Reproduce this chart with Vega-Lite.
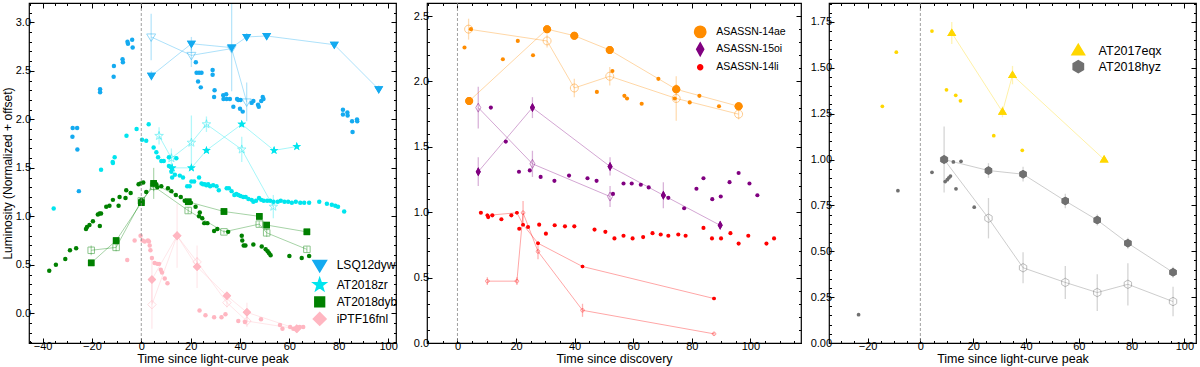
{
"$schema": "https://vega.github.io/schema/vega-lite/v6.json",
"padding": {"left": 0, "top": 1, "right": 0, "bottom": 0},
"spacing": 6,
"datasets": {
"p1": [
{"s":"LSQ12dyw","k":"d","t":-27.8,"L":1.91},{"s":"LSQ12dyw","k":"d","t":-26.0,"L":1.91},{"s":"LSQ12dyw","k":"d","t":-27.9,"L":1.82},{"s":"LSQ12dyw","k":"d","t":-25.9,"L":1.69},{"s":"LSQ12dyw","k":"d","t":-25.3,"L":1.26},{"s":"LSQ12dyw","k":"d","t":-16.7,"L":2.31},{"s":"LSQ12dyw","k":"d","t":-16.7,"L":2.28},{"s":"LSQ12dyw","k":"d","t":-11.2,"L":2.44},{"s":"LSQ12dyw","k":"d","t":-11.1,"L":2.55},{"s":"LSQ12dyw","k":"d","t":-7.6,"L":2.62},{"s":"LSQ12dyw","k":"d","t":-7.45,"L":2.59},{"s":"LSQ12dyw","k":"d","t":-5.6,"L":2.8},{"s":"LSQ12dyw","k":"d","t":-5.4,"L":2.78},{"s":"LSQ12dyw","k":"d","t":-3.7,"L":2.82},{"s":"LSQ12dyw","k":"d","t":-3.5,"L":2.74},{"s":"LSQ12dyw","k":"d","t":22.1,"L":2.59},{"s":"LSQ12dyw","k":"d","t":22.4,"L":2.48},{"s":"LSQ12dyw","k":"d","t":23.4,"L":2.48},{"s":"LSQ12dyw","k":"d","t":24.4,"L":2.48},{"s":"LSQ12dyw","k":"d","t":23.0,"L":2.39},{"s":"LSQ12dyw","k":"d","t":24.1,"L":2.33},{"s":"LSQ12dyw","k":"d","t":28.9,"L":2.51},{"s":"LSQ12dyw","k":"d","t":28.9,"L":2.46},{"s":"LSQ12dyw","k":"d","t":29.7,"L":2.3},{"s":"LSQ12dyw","k":"d","t":29.5,"L":2.23},{"s":"LSQ12dyw","k":"d","t":33.2,"L":2.25},{"s":"LSQ12dyw","k":"d","t":34.4,"L":2.26},{"s":"LSQ12dyw","k":"d","t":33.3,"L":2.21},{"s":"LSQ12dyw","k":"d","t":34.6,"L":2.21},{"s":"LSQ12dyw","k":"d","t":35.9,"L":2.21},{"s":"LSQ12dyw","k":"d","t":38.8,"L":2.21},{"s":"LSQ12dyw","k":"d","t":39.3,"L":2.2},{"s":"LSQ12dyw","k":"d","t":40.2,"L":2.2},{"s":"LSQ12dyw","k":"d","t":37.3,"L":2.13},{"s":"LSQ12dyw","k":"d","t":40.0,"L":2.11},{"s":"LSQ12dyw","k":"d","t":41.1,"L":2.08},{"s":"LSQ12dyw","k":"d","t":44.7,"L":2.17},{"s":"LSQ12dyw","k":"d","t":45.4,"L":2.19},{"s":"LSQ12dyw","k":"d","t":47.3,"L":2.15},{"s":"LSQ12dyw","k":"d","t":47.6,"L":2.13},{"s":"LSQ12dyw","k":"d","t":48.6,"L":2.19},{"s":"LSQ12dyw","k":"d","t":49.2,"L":2.23},{"s":"LSQ12dyw","k":"d","t":49.5,"L":2.21},{"s":"LSQ12dyw","k":"d","t":81.7,"L":2.1},{"s":"LSQ12dyw","k":"d","t":81.7,"L":2.05},{"s":"LSQ12dyw","k":"d","t":83.5,"L":2.07},{"s":"LSQ12dyw","k":"d","t":83.6,"L":2.04},{"s":"LSQ12dyw","k":"d","t":85.4,"L":1.98},{"s":"LSQ12dyw","k":"d","t":85.6,"L":1.87},{"s":"LSQ12dyw","k":"d","t":87.4,"L":2.0},{"s":"LSQ12dyw","k":"d","t":87.5,"L":1.98},
{"s":"LSQ12dyw","k":"f","t":4.1,"L":2.45,"e":0.05},{"s":"LSQ12dyw","k":"f","t":20.3,"L":2.78,"e":0.07},{"s":"LSQ12dyw","k":"f","t":36.6,"L":2.74,"e":0.45},{"s":"LSQ12dyw","k":"f","t":42.7,"L":2.85,"e":0.04},{"s":"LSQ12dyw","k":"f","t":50.8,"L":2.86,"e":0.03},{"s":"LSQ12dyw","k":"f","t":78.2,"L":2.77,"e":0.03},{"s":"LSQ12dyw","k":"f","t":96.2,"L":2.31,"e":0.04},
{"s":"LSQ12dyw","k":"o","t":4.0,"L":2.85,"e":0.24},{"s":"LSQ12dyw","k":"o","t":20.3,"L":2.66,"e":0.12},{"s":"LSQ12dyw","k":"o","t":36.6,"L":2.73,"e":0.02},{"s":"LSQ12dyw","k":"o","t":42.7,"L":2.18,"e":0.2},
{"s":"AT2018zr","k":"d","t":-35.5,"L":1.08},{"s":"AT2018zr","k":"d","t":-16.3,"L":1.48},{"s":"AT2018zr","k":"d","t":-11.5,"L":1.55},{"s":"AT2018zr","k":"d","t":-11.6,"L":1.56},{"s":"AT2018zr","k":"d","t":-10.8,"L":1.61},{"s":"AT2018zr","k":"d","t":-6.0,"L":1.83},{"s":"AT2018zr","k":"d","t":-1.9,"L":1.9},{"s":"AT2018zr","k":"d","t":3.0,"L":1.95},{"s":"AT2018zr","k":"d","t":0.3,"L":1.79},{"s":"AT2018zr","k":"d","t":2.0,"L":1.78},{"s":"AT2018zr","k":"d","t":5.0,"L":1.71},{"s":"AT2018zr","k":"d","t":6.1,"L":1.66},{"s":"AT2018zr","k":"d","t":6.8,"L":1.61},{"s":"AT2018zr","k":"d","t":8.1,"L":1.57},{"s":"AT2018zr","k":"d","t":9.1,"L":1.57},{"s":"AT2018zr","k":"d","t":11.2,"L":1.61},{"s":"AT2018zr","k":"d","t":14.2,"L":1.6},{"s":"AT2018zr","k":"d","t":11.2,"L":1.52},{"s":"AT2018zr","k":"d","t":11.9,"L":1.51},{"s":"AT2018zr","k":"d","t":12.2,"L":1.46},{"s":"AT2018zr","k":"d","t":12.5,"L":1.4},{"s":"AT2018zr","k":"d","t":13.6,"L":1.43},{"s":"AT2018zr","k":"d","t":15.6,"L":1.42},{"s":"AT2018zr","k":"d","t":16.9,"L":1.4},{"s":"AT2018zr","k":"d","t":18.6,"L":1.31},{"s":"AT2018zr","k":"d","t":19.6,"L":1.31},{"s":"AT2018zr","k":"d","t":20.3,"L":1.36},{"s":"AT2018zr","k":"d","t":21.4,"L":1.36},{"s":"AT2018zr","k":"d","t":23.4,"L":1.4},{"s":"AT2018zr","k":"d","t":24.4,"L":1.34},{"s":"AT2018zr","k":"d","t":25.0,"L":1.33},{"s":"AT2018zr","k":"d","t":25.7,"L":1.33},{"s":"AT2018zr","k":"d","t":26.4,"L":1.32},{"s":"AT2018zr","k":"d","t":27.1,"L":1.33},{"s":"AT2018zr","k":"d","t":27.9,"L":1.31},{"s":"AT2018zr","k":"d","t":29.1,"L":1.32},{"s":"AT2018zr","k":"d","t":30.5,"L":1.31},{"s":"AT2018zr","k":"d","t":31.4,"L":1.27},{"s":"AT2018zr","k":"d","t":34.6,"L":1.29},{"s":"AT2018zr","k":"d","t":35.5,"L":1.29},{"s":"AT2018zr","k":"d","t":36.6,"L":1.26},{"s":"AT2018zr","k":"d","t":37.7,"L":1.22},{"s":"AT2018zr","k":"d","t":38.5,"L":1.23},{"s":"AT2018zr","k":"d","t":39.3,"L":1.22},{"s":"AT2018zr","k":"d","t":40.2,"L":1.21},{"s":"AT2018zr","k":"d","t":41.3,"L":1.2},{"s":"AT2018zr","k":"d","t":42.3,"L":1.2},{"s":"AT2018zr","k":"d","t":43.4,"L":1.18},{"s":"AT2018zr","k":"d","t":44.7,"L":1.17},{"s":"AT2018zr","k":"d","t":45.4,"L":1.15},{"s":"AT2018zr","k":"d","t":46.5,"L":1.16},{"s":"AT2018zr","k":"d","t":47.7,"L":1.19},{"s":"AT2018zr","k":"d","t":48.6,"L":1.17},{"s":"AT2018zr","k":"d","t":49.6,"L":1.16},{"s":"AT2018zr","k":"d","t":51.0,"L":1.16},{"s":"AT2018zr","k":"d","t":52.2,"L":1.16},{"s":"AT2018zr","k":"d","t":53.6,"L":1.15},{"s":"AT2018zr","k":"d","t":55.3,"L":1.15},{"s":"AT2018zr","k":"d","t":56.5,"L":1.16},{"s":"AT2018zr","k":"d","t":58.0,"L":1.15},{"s":"AT2018zr","k":"d","t":59.5,"L":1.15},{"s":"AT2018zr","k":"d","t":61.0,"L":1.14},{"s":"AT2018zr","k":"d","t":62.6,"L":1.15},{"s":"AT2018zr","k":"d","t":64.4,"L":1.14},{"s":"AT2018zr","k":"d","t":66.0,"L":1.14},{"s":"AT2018zr","k":"d","t":68.0,"L":1.14},{"s":"AT2018zr","k":"d","t":72.1,"L":1.15},{"s":"AT2018zr","k":"d","t":75.2,"L":1.13},{"s":"AT2018zr","k":"d","t":77.2,"L":1.12},{"s":"AT2018zr","k":"d","t":78.6,"L":1.11},{"s":"AT2018zr","k":"d","t":79.7,"L":1.1},{"s":"AT2018zr","k":"d","t":82.2,"L":1.05},
{"s":"AT2018zr","k":"f","t":12.5,"L":1.5,"e":0.02},{"s":"AT2018zr","k":"f","t":20.3,"L":1.5,"e":0.02},{"s":"AT2018zr","k":"f","t":26.4,"L":1.68,"e":0.02},{"s":"AT2018zr","k":"f","t":40.7,"L":1.95,"e":0.03},{"s":"AT2018zr","k":"f","t":53.8,"L":1.68,"e":0.02},{"s":"AT2018zr","k":"f","t":63.0,"L":1.72,"e":0.02},
{"s":"AT2018zr","k":"o","t":7.2,"L":1.83,"e":0.09},{"s":"AT2018zr","k":"o","t":12.2,"L":1.6,"e":0.1},{"s":"AT2018zr","k":"o","t":20.3,"L":1.76,"e":0.28},{"s":"AT2018zr","k":"o","t":26.4,"L":1.95,"e":0.08},{"s":"AT2018zr","k":"o","t":40.7,"L":1.69,"e":0.13},{"s":"AT2018zr","k":"o","t":53.5,"L":1.1,"e":0.12},
{"s":"AT2018dyb","k":"d","t":-37.3,"L":0.44},{"s":"AT2018dyb","k":"d","t":-34.6,"L":0.5},{"s":"AT2018dyb","k":"d","t":-30.8,"L":0.56},{"s":"AT2018dyb","k":"d","t":-28.9,"L":0.65},{"s":"AT2018dyb","k":"d","t":-26.4,"L":0.67},{"s":"AT2018dyb","k":"d","t":-22.4,"L":0.87},{"s":"AT2018dyb","k":"d","t":-22.0,"L":0.89},{"s":"AT2018dyb","k":"d","t":-21.0,"L":0.91},{"s":"AT2018dyb","k":"d","t":-19.6,"L":0.95},{"s":"AT2018dyb","k":"d","t":-17.6,"L":1.02},{"s":"AT2018dyb","k":"d","t":-16.9,"L":1.03},{"s":"AT2018dyb","k":"d","t":-16.3,"L":1.03},{"s":"AT2018dyb","k":"d","t":-16.8,"L":0.9},{"s":"AT2018dyb","k":"d","t":-14.2,"L":1.1},{"s":"AT2018dyb","k":"d","t":-12.9,"L":1.11},{"s":"AT2018dyb","k":"d","t":-11.5,"L":1.17},{"s":"AT2018dyb","k":"d","t":-9.2,"L":1.11},{"s":"AT2018dyb","k":"d","t":-8.8,"L":1.2},{"s":"AT2018dyb","k":"d","t":-6.4,"L":1.19},{"s":"AT2018dyb","k":"d","t":-6.1,"L":1.27},{"s":"AT2018dyb","k":"d","t":-4.3,"L":1.24},{"s":"AT2018dyb","k":"d","t":-1.1,"L":1.33},{"s":"AT2018dyb","k":"d","t":-0.3,"L":1.34},{"s":"AT2018dyb","k":"d","t":0.8,"L":1.35},{"s":"AT2018dyb","k":"d","t":0.0,"L":1.17},{"s":"AT2018dyb","k":"d","t":2.0,"L":1.25},{"s":"AT2018dyb","k":"d","t":6.5,"L":1.3},{"s":"AT2018dyb","k":"d","t":6.1,"L":1.33},{"s":"AT2018dyb","k":"d","t":8.1,"L":1.31},{"s":"AT2018dyb","k":"d","t":10.8,"L":1.29},{"s":"AT2018dyb","k":"d","t":12.2,"L":1.26},{"s":"AT2018dyb","k":"d","t":14.0,"L":1.22},{"s":"AT2018dyb","k":"d","t":16.0,"L":1.2},{"s":"AT2018dyb","k":"d","t":17.6,"L":1.16},{"s":"AT2018dyb","k":"d","t":19.0,"L":1.15},{"s":"AT2018dyb","k":"d","t":20.1,"L":1.14},{"s":"AT2018dyb","k":"d","t":22.0,"L":1.1},{"s":"AT2018dyb","k":"d","t":23.7,"L":1.04},{"s":"AT2018dyb","k":"d","t":23.4,"L":1.0},{"s":"AT2018dyb","k":"d","t":24.7,"L":0.98},{"s":"AT2018dyb","k":"d","t":25.5,"L":0.93},{"s":"AT2018dyb","k":"d","t":26.8,"L":0.93},{"s":"AT2018dyb","k":"d","t":29.5,"L":0.85},{"s":"AT2018dyb","k":"d","t":30.8,"L":0.87},{"s":"AT2018dyb","k":"d","t":35.2,"L":0.84},{"s":"AT2018dyb","k":"d","t":40.7,"L":0.8},{"s":"AT2018dyb","k":"d","t":40.9,"L":0.75},{"s":"AT2018dyb","k":"d","t":41.5,"L":0.7},{"s":"AT2018dyb","k":"d","t":42.2,"L":0.7},{"s":"AT2018dyb","k":"d","t":45.4,"L":0.71},{"s":"AT2018dyb","k":"d","t":48.8,"L":0.69},{"s":"AT2018dyb","k":"d","t":50.4,"L":0.66},{"s":"AT2018dyb","k":"d","t":51.2,"L":0.64},{"s":"AT2018dyb","k":"d","t":51.8,"L":0.62},{"s":"AT2018dyb","k":"d","t":52.4,"L":0.6},{"s":"AT2018dyb","k":"d","t":60.0,"L":0.59},{"s":"AT2018dyb","k":"d","t":65.0,"L":0.57},{"s":"AT2018dyb","k":"d","t":68.0,"L":0.59},
{"s":"AT2018dyb","k":"f","t":-20.3,"L":0.52,"e":0.02},{"s":"AT2018dyb","k":"f","t":-10.2,"L":0.75,"e":0.02},{"s":"AT2018dyb","k":"f","t":0.0,"L":1.14,"e":0.03},{"s":"AT2018dyb","k":"f","t":5.0,"L":1.34,"e":0.16},{"s":"AT2018dyb","k":"f","t":19.0,"L":1.15,"e":0.02},{"s":"AT2018dyb","k":"f","t":33.5,"L":1.05,"e":0.02},{"s":"AT2018dyb","k":"f","t":47.8,"L":1.0,"e":0.02},{"s":"AT2018dyb","k":"f","t":50.8,"L":0.91,"e":0.02},{"s":"AT2018dyb","k":"f","t":67.1,"L":0.84,"e":0.02},
{"s":"AT2018dyb","k":"o","t":-20.3,"L":0.65,"e":0.05},{"s":"AT2018dyb","k":"o","t":-10.2,"L":0.68,"e":0.04},{"s":"AT2018dyb","k":"o","t":0.0,"L":1.16,"e":0.03},{"s":"AT2018dyb","k":"o","t":5.0,"L":1.31,"e":0.05},{"s":"AT2018dyb","k":"o","t":19.0,"L":1.06,"e":0.03},{"s":"AT2018dyb","k":"o","t":33.5,"L":0.84,"e":0.02},{"s":"AT2018dyb","k":"o","t":47.8,"L":0.92,"e":0.03},{"s":"AT2018dyb","k":"o","t":50.8,"L":0.83,"e":0.04},{"s":"AT2018dyb","k":"o","t":67.1,"L":0.66,"e":0.03},
{"s":"iPTF16fnl","k":"d","t":-5.7,"L":0.55},{"s":"iPTF16fnl","k":"d","t":-2.7,"L":0.75},{"s":"iPTF16fnl","k":"d","t":-0.3,"L":0.8},{"s":"iPTF16fnl","k":"d","t":0.5,"L":0.75},{"s":"iPTF16fnl","k":"d","t":1.4,"L":0.74},{"s":"iPTF16fnl","k":"d","t":2.7,"L":0.75},{"s":"iPTF16fnl","k":"d","t":3.1,"L":0.74},{"s":"iPTF16fnl","k":"d","t":3.4,"L":0.7},{"s":"iPTF16fnl","k":"d","t":3.7,"L":0.65},{"s":"iPTF16fnl","k":"d","t":4.3,"L":0.57},{"s":"iPTF16fnl","k":"d","t":5.4,"L":0.52},{"s":"iPTF16fnl","k":"d","t":6.5,"L":0.51},{"s":"iPTF16fnl","k":"d","t":7.2,"L":0.51},{"s":"iPTF16fnl","k":"d","t":7.9,"L":0.45},{"s":"iPTF16fnl","k":"d","t":8.4,"L":0.42},{"s":"iPTF16fnl","k":"d","t":9.5,"L":0.36},{"s":"iPTF16fnl","k":"d","t":10.6,"L":0.31},{"s":"iPTF16fnl","k":"d","t":23.6,"L":0.03},{"s":"iPTF16fnl","k":"d","t":26.0,"L":-0.02},{"s":"iPTF16fnl","k":"d","t":29.5,"L":-0.04},{"s":"iPTF16fnl","k":"d","t":32.5,"L":-0.04},{"s":"iPTF16fnl","k":"d","t":34.1,"L":-0.01},{"s":"iPTF16fnl","k":"d","t":39.3,"L":-0.08},{"s":"iPTF16fnl","k":"d","t":42.0,"L":-0.09},{"s":"iPTF16fnl","k":"d","t":48.5,"L":-0.06},{"s":"iPTF16fnl","k":"d","t":56.2,"L":-0.12},{"s":"iPTF16fnl","k":"d","t":57.2,"L":-0.16},{"s":"iPTF16fnl","k":"d","t":60.3,"L":-0.14},{"s":"iPTF16fnl","k":"d","t":61.6,"L":-0.16},{"s":"iPTF16fnl","k":"d","t":62.9,"L":-0.15},{"s":"iPTF16fnl","k":"d","t":64.2,"L":-0.14},{"s":"iPTF16fnl","k":"d","t":65.6,"L":-0.14},
{"s":"iPTF16fnl","k":"f","t":4.3,"L":0.35,"e":0.24},{"s":"iPTF16fnl","k":"f","t":14.5,"L":0.8,"e":0.33},{"s":"iPTF16fnl","k":"f","t":22.6,"L":0.48,"e":0.22},{"s":"iPTF16fnl","k":"f","t":34.7,"L":0.18,"e":0.02},{"s":"iPTF16fnl","k":"f","t":42.8,"L":0.01,"e":0.1},{"s":"iPTF16fnl","k":"f","t":63.0,"L":-0.16,"e":0.02},
{"s":"iPTF16fnl","k":"o","t":4.3,"L":0.09,"e":0.25},{"s":"iPTF16fnl","k":"o","t":14.5,"L":0.8,"e":0.05},{"s":"iPTF16fnl","k":"o","t":22.6,"L":0.53,"e":0.05},{"s":"iPTF16fnl","k":"o","t":34.7,"L":0.11,"e":0.05},{"s":"iPTF16fnl","k":"o","t":42.8,"L":-0.08,"e":0.06},{"s":"iPTF16fnl","k":"o","t":63.0,"L":-0.16,"e":0.02}
],
"p2": [
{"s":"ASASSN-14ae","k":"d","t":2.4,"L":2.26},{"s":"ASASSN-14ae","k":"d","t":4.6,"L":2.4},{"s":"ASASSN-14ae","k":"d","t":15.5,"L":2.17},{"s":"ASASSN-14ae","k":"d","t":20.6,"L":2.31},{"s":"ASASSN-14ae","k":"d","t":25.8,"L":2.2},{"s":"ASASSN-14ae","k":"d","t":47.6,"L":1.92},{"s":"ASASSN-14ae","k":"d","t":52.9,"L":2.08},{"s":"ASASSN-14ae","k":"d","t":57.0,"L":1.89},{"s":"ASASSN-14ae","k":"d","t":57.9,"L":1.87},{"s":"ASASSN-14ae","k":"d","t":62.9,"L":1.83},{"s":"ASASSN-14ae","k":"d","t":68.6,"L":2.02},{"s":"ASASSN-14ae","k":"d","t":74.2,"L":1.87},{"s":"ASASSN-14ae","k":"d","t":79.3,"L":1.84},{"s":"ASASSN-14ae","k":"d","t":82.6,"L":1.89},{"s":"ASASSN-14ae","k":"d","t":89.3,"L":1.81},
{"s":"ASASSN-14ae","k":"f","t":4.0,"L":1.85,"e":0.02},{"s":"ASASSN-14ae","k":"f","t":30.6,"L":2.4,"e":0.02},{"s":"ASASSN-14ae","k":"f","t":39.9,"L":2.35,"e":0.02},{"s":"ASASSN-14ae","k":"f","t":52.0,"L":2.24,"e":0.02},{"s":"ASASSN-14ae","k":"f","t":74.7,"L":1.94,"e":0.04},{"s":"ASASSN-14ae","k":"f","t":96.0,"L":1.81,"e":0.02},
{"s":"ASASSN-14ae","k":"o","t":3.8,"L":2.4,"e":0.08},{"s":"ASASSN-14ae","k":"o","t":30.6,"L":2.31,"e":0.05},{"s":"ASASSN-14ae","k":"o","t":39.9,"L":1.95,"e":0.07},{"s":"ASASSN-14ae","k":"o","t":52.0,"L":2.04,"e":0.07},{"s":"ASASSN-14ae","k":"o","t":74.7,"L":1.87,"e":0.17},{"s":"ASASSN-14ae","k":"o","t":96.0,"L":1.75,"e":0.04},
{"s":"ASASSN-15oi","k":"d","t":11.4,"L":1.8},{"s":"ASASSN-15oi","k":"d","t":16.5,"L":1.54},{"s":"ASASSN-15oi","k":"d","t":21.0,"L":1.31},{"s":"ASASSN-15oi","k":"d","t":24.7,"L":1.32},{"s":"ASASSN-15oi","k":"d","t":28.4,"L":1.27},{"s":"ASASSN-15oi","k":"d","t":33.1,"L":1.24},{"s":"ASASSN-15oi","k":"d","t":38.1,"L":1.28},{"s":"ASASSN-15oi","k":"d","t":44.4,"L":1.26},{"s":"ASASSN-15oi","k":"d","t":47.5,"L":1.24},{"s":"ASASSN-15oi","k":"d","t":53.1,"L":1.14},{"s":"ASASSN-15oi","k":"d","t":56.7,"L":1.22},{"s":"ASASSN-15oi","k":"d","t":59.5,"L":1.22},{"s":"ASASSN-15oi","k":"d","t":62.6,"L":1.21},{"s":"ASASSN-15oi","k":"d","t":65.3,"L":1.19},{"s":"ASASSN-15oi","k":"d","t":72.0,"L":1.11},{"s":"ASASSN-15oi","k":"d","t":77.4,"L":1.03},{"s":"ASASSN-15oi","k":"d","t":81.6,"L":1.18},{"s":"ASASSN-15oi","k":"d","t":84.0,"L":1.26},{"s":"ASASSN-15oi","k":"d","t":87.0,"L":1.1},{"s":"ASASSN-15oi","k":"d","t":89.9,"L":1.12},{"s":"ASASSN-15oi","k":"d","t":92.9,"L":1.23},{"s":"ASASSN-15oi","k":"d","t":96.0,"L":1.3},{"s":"ASASSN-15oi","k":"d","t":99.7,"L":1.22},{"s":"ASASSN-15oi","k":"d","t":102.4,"L":1.13},
{"s":"ASASSN-15oi","k":"f","t":7.1,"L":1.31,"e":0.11},{"s":"ASASSN-15oi","k":"f","t":25.6,"L":1.8,"e":0.08},{"s":"ASASSN-15oi","k":"f","t":52.1,"L":1.35,"e":0.07},{"s":"ASASSN-15oi","k":"f","t":70.3,"L":1.13,"e":0.1},{"s":"ASASSN-15oi","k":"f","t":89.7,"L":0.9,"e":0.03},
{"s":"ASASSN-15oi","k":"o","t":7.1,"L":1.8,"e":0.16},{"s":"ASASSN-15oi","k":"o","t":25.6,"L":1.37,"e":0.1},{"s":"ASASSN-15oi","k":"o","t":52.1,"L":1.12,"e":0.08},
{"s":"ASASSN-14li","k":"d","t":8.0,"L":0.996},{"s":"ASASSN-14li","k":"d","t":10.5,"L":0.963},{"s":"ASASSN-14li","k":"d","t":11.9,"L":0.976},{"s":"ASASSN-14li","k":"d","t":15.0,"L":0.946},{"s":"ASASSN-14li","k":"d","t":18.4,"L":0.976},{"s":"ASASSN-14li","k":"d","t":21.1,"L":0.874},{"s":"ASASSN-14li","k":"d","t":24.1,"L":0.887},{"s":"ASASSN-14li","k":"d","t":27.9,"L":0.905},{"s":"ASASSN-14li","k":"d","t":30.2,"L":0.836},{"s":"ASASSN-14li","k":"d","t":33.2,"L":0.9},{"s":"ASASSN-14li","k":"d","t":36.7,"L":0.892},{"s":"ASASSN-14li","k":"d","t":39.9,"L":0.892},{"s":"ASASSN-14li","k":"d","t":46.8,"L":0.867},{"s":"ASASSN-14li","k":"d","t":50.5,"L":0.85},{"s":"ASASSN-14li","k":"d","t":53.6,"L":0.8},{"s":"ASASSN-14li","k":"d","t":56.7,"L":0.82},{"s":"ASASSN-14li","k":"d","t":59.8,"L":0.8},{"s":"ASASSN-14li","k":"d","t":63.4,"L":0.81},{"s":"ASASSN-14li","k":"d","t":66.6,"L":0.84},{"s":"ASASSN-14li","k":"d","t":69.4,"L":0.83},{"s":"ASASSN-14li","k":"d","t":72.0,"L":0.82},{"s":"ASASSN-14li","k":"d","t":75.4,"L":0.83},{"s":"ASASSN-14li","k":"d","t":77.9,"L":0.82},{"s":"ASASSN-14li","k":"d","t":84.0,"L":0.88},{"s":"ASASSN-14li","k":"d","t":86.9,"L":0.8},{"s":"ASASSN-14li","k":"d","t":90.0,"L":0.8},{"s":"ASASSN-14li","k":"d","t":93.2,"L":0.84},{"s":"ASASSN-14li","k":"d","t":96.0,"L":0.76},{"s":"ASASSN-14li","k":"d","t":99.3,"L":0.82},{"s":"ASASSN-14li","k":"d","t":105.5,"L":0.76},{"s":"ASASSN-14li","k":"d","t":108.1,"L":0.8},
{"s":"ASASSN-14li","k":"f","t":10.2,"L":0.976,"e":0.01},{"s":"ASASSN-14li","k":"f","t":20.3,"L":0.996,"e":0.01},{"s":"ASASSN-14li","k":"f","t":22.4,"L":0.905,"e":0.01},{"s":"ASASSN-14li","k":"f","t":27.5,"L":0.763,"e":0.01},{"s":"ASASSN-14li","k":"f","t":42.7,"L":0.585,"e":0.01},{"s":"ASASSN-14li","k":"f","t":87.6,"L":0.34,"e":0.01},
{"s":"ASASSN-14li","k":"o","t":10.2,"L":0.473,"e":0.03},{"s":"ASASSN-14li","k":"o","t":20.3,"L":0.473,"e":0.03},{"s":"ASASSN-14li","k":"o","t":22.4,"L":0.996,"e":0.09},{"s":"ASASSN-14li","k":"o","t":27.5,"L":0.7,"e":0.06},{"s":"ASASSN-14li","k":"o","t":42.7,"L":0.25,"e":0.05},{"s":"ASASSN-14li","k":"o","t":87.6,"L":0.07,"e":0.01}
],
"p3": [
{"s":"AT2017eqx","k":"d","t":-14.4,"L":1.29},{"s":"AT2017eqx","k":"d","t":-9.1,"L":1.585},{"s":"AT2017eqx","k":"d","t":4.4,"L":1.7},{"s":"AT2017eqx","k":"d","t":9.9,"L":1.38},{"s":"AT2017eqx","k":"d","t":13.4,"L":1.35},{"s":"AT2017eqx","k":"d","t":15.2,"L":1.32},{"s":"AT2017eqx","k":"d","t":27.8,"L":1.13},{"s":"AT2017eqx","k":"d","t":38.6,"L":1.05},
{"s":"AT2017eqx","k":"f","t":11.9,"L":1.69,"e":0.06},{"s":"AT2017eqx","k":"f","t":31.1,"L":1.26,"e":0.03},{"s":"AT2017eqx","k":"f","t":34.9,"L":1.46,"e":0.05},{"s":"AT2017eqx","k":"f","t":69.6,"L":1.0,"e":0.01},
{"s":"AT2018hyz","k":"d","t":-23.4,"L":0.154},{"s":"AT2018hyz","k":"d","t":-8.5,"L":0.83},{"s":"AT2018hyz","k":"d","t":4.4,"L":0.93},{"s":"AT2018hyz","k":"d","t":9.4,"L":0.88},{"s":"AT2018hyz","k":"d","t":10.2,"L":0.89},{"s":"AT2018hyz","k":"d","t":10.8,"L":0.9},{"s":"AT2018hyz","k":"d","t":11.4,"L":0.91},{"s":"AT2018hyz","k":"d","t":12.5,"L":0.987},{"s":"AT2018hyz","k":"d","t":15.4,"L":0.99},{"s":"AT2018hyz","k":"d","t":13.5,"L":0.84},{"s":"AT2018hyz","k":"d","t":20.4,"L":0.74},
{"s":"AT2018hyz","k":"f","t":9.0,"L":1.0,"e":0.18},{"s":"AT2018hyz","k":"f","t":25.8,"L":0.94,"e":0.04},{"s":"AT2018hyz","k":"f","t":38.9,"L":0.92,"e":0.04},{"s":"AT2018hyz","k":"f","t":54.9,"L":0.774,"e":0.04},{"s":"AT2018hyz","k":"f","t":67.0,"L":0.67,"e":0.03},{"s":"AT2018hyz","k":"f","t":78.6,"L":0.544,"e":0.03},{"s":"AT2018hyz","k":"f","t":95.7,"L":0.385,"e":0.03},
{"s":"AT2018hyz","k":"o","t":9.0,"L":1.0,"e":0.02},{"s":"AT2018hyz","k":"o","t":25.8,"L":0.68,"e":0.11},{"s":"AT2018hyz","k":"o","t":38.9,"L":0.41,"e":0.085},{"s":"AT2018hyz","k":"o","t":54.9,"L":0.33,"e":0.09},{"s":"AT2018hyz","k":"o","t":67.0,"L":0.275,"e":0.1},{"s":"AT2018hyz","k":"o","t":78.6,"L":0.32,"e":0.115},{"s":"AT2018hyz","k":"o","t":95.7,"L":0.226,"e":0.08}
]
},
"hconcat": [
{
"width": 367, "height": 340,
"layer": [
{
"data": {"name": "p1"},
"encoding": {
"x": {"field": "t", "type": "quantitative", "scale": {"domain": [-45.5, 103.2], "nice": false, "zero": false}, "axis": {"orient": "bottom", "values": [-40,-20,0,20,40,60,80,100], "format": "d", "tickSize": -5, "labelPadding": 2, "title": "Time since light-curve peak", "titlePadding": 1}},
"y": {"field": "L", "type": "quantitative", "scale": {"domain": [-0.306, 3.2], "nice": false, "zero": false}, "axis": {"orient": "left", "values": [0,0.5,1,1.5,2,2.5,3], "format": ".1f", "tickSize": -5, "labelPadding": 3.5, "title": "Luminosity (Normalized + offset)", "titleFontSize": 12, "titlePadding": 1, "minExtent": 0}}
},
"layer": [
{"transform": [{"filter": "datum.k === 'f'"}], "mark": {"type": "point", "filled": true, "opacity": 1, "size": 100}, "encoding": {"color": {"field": "s", "type": "nominal", "scale": {"domain": ["LSQ12dyw","AT2018zr","AT2018dyb","iPTF16fnl"], "range": ["#14aaf0","#00e5ee","#008000","#ffb6c1"]}, "legend": {"orient": "none", "legendX": 282.2, "legendY": 253.5, "title": null, "symbolSize": 225, "labelFontSize": 12, "labelOffset": 8.5, "rowPadding": -1.1, "padding": 0}}, "shape": {"field": "s", "type": "nominal", "scale": {"domain": ["LSQ12dyw","AT2018zr","AT2018dyb","iPTF16fnl"], "range": ["M-0.9,-0.6L0.9,-0.6L0,0.9Z","M0,-0.9L0.212,-0.291L0.856,-0.278L0.342,0.111L0.529,0.728L0,0.36L-0.529,0.728L-0.342,0.111L-0.856,-0.278L-0.212,-0.291Z","M-0.65,-0.65L0.65,-0.65L0.65,0.65L-0.65,0.65Z","M0,-0.85L0.85,0L0,0.85L-0.85,0Z"]}, "legend": {"orient": "none", "legendX": 282.2, "legendY": 253.5, "title": null, "symbolSize": 225, "labelFontSize": 12, "labelOffset": 8.5, "rowPadding": -1.1, "padding": 0}}}},
{"transform": [{"filter": "datum.k !== 'd'"}], "mark": {"type": "errorbar", "opacity": 0.3, "thickness": 1.3}, "encoding": {"yError": {"field": "e"}, "color": {"field": "s", "type": "nominal", "scale": {"domain": ["LSQ12dyw","AT2018zr","AT2018dyb","iPTF16fnl"], "range": ["#14aaf0","#00e5ee","#008000","#ffb6c1"]}, "legend": null}}},
{"transform": [{"filter": "datum.k !== 'd'"}], "mark": {"type": "line", "opacity": 0.35, "strokeWidth": 1}, "encoding": {"detail": {"field": "k"}, "color": {"field": "s", "type": "nominal", "scale": {"domain": ["LSQ12dyw","AT2018zr","AT2018dyb","iPTF16fnl"], "range": ["#14aaf0","#00e5ee","#008000","#ffb6c1"]}, "legend": null}}},
{"transform": [{"filter": "datum.k === 'd'"}], "mark": {"type": "circle", "size": 20, "opacity": 1}, "encoding": {"color": {"field": "s", "type": "nominal", "scale": {"domain": ["LSQ12dyw","AT2018zr","AT2018dyb","iPTF16fnl"], "range": ["#14aaf0","#00e5ee","#008000","#ffb6c1"]}, "legend": null}}},
{"transform": [{"filter": "datum.k === 'o'"}], "mark": {"type": "point", "filled": false, "opacity": 0.45, "strokeWidth": 1, "size": 100}, "encoding": {"color": {"field": "s", "type": "nominal", "scale": {"domain": ["LSQ12dyw","AT2018zr","AT2018dyb","iPTF16fnl"], "range": ["#14aaf0","#00e5ee","#008000","#ffb6c1"]}, "legend": null}, "shape": {"field": "s", "type": "nominal", "scale": {"domain": ["LSQ12dyw","AT2018zr","AT2018dyb","iPTF16fnl"], "range": ["M-0.9,-0.6L0.9,-0.6L0,0.9Z","M0,-0.9L0.212,-0.291L0.856,-0.278L0.342,0.111L0.529,0.728L0,0.36L-0.529,0.728L-0.342,0.111L-0.856,-0.278L-0.212,-0.291Z","M-0.65,-0.65L0.65,-0.65L0.65,0.65L-0.65,0.65Z","M0,-0.85L0.85,0L0,0.85L-0.85,0Z"]}, "legend": null}}},
{"transform": [{"filter": "datum.k === 'f'"}], "mark": {"type": "point", "filled": true, "opacity": 1, "size": 100}, "encoding": {"color": {"field": "s", "type": "nominal", "scale": {"domain": ["LSQ12dyw","AT2018zr","AT2018dyb","iPTF16fnl"], "range": ["#14aaf0","#00e5ee","#008000","#ffb6c1"]}, "legend": null}, "shape": {"field": "s", "type": "nominal", "scale": {"domain": ["LSQ12dyw","AT2018zr","AT2018dyb","iPTF16fnl"], "range": ["M-0.9,-0.6L0.9,-0.6L0,0.9Z","M0,-0.9L0.212,-0.291L0.856,-0.278L0.342,0.111L0.529,0.728L0,0.36L-0.529,0.728L-0.342,0.111L-0.856,-0.278L-0.212,-0.291Z","M-0.65,-0.65L0.65,-0.65L0.65,0.65L-0.65,0.65Z","M0,-0.85L0.85,0L0,0.85L-0.85,0Z"]}, "legend": null}}}
]
},
{"data": {"values": [{"v": 0}]}, "mark": {"type": "rule", "strokeDash": [3, 2], "color": "#888888", "strokeWidth": 0.8}, "encoding": {"x": {"field": "v", "type": "quantitative", "scale": {"domain": [-45.5, 103.2], "nice": false, "zero": false}, "axis": null}}},
{"data": {"values": [{"v": 0}]}, "mark": {"type": "point", "opacity": 0}, "encoding": {
"x": {"field": "v", "type": "quantitative", "scale": {"domain": [-45.5, 103.2], "nice": false, "zero": false}, "axis": {"orient": "bottom", "values": [-45,-40,-35,-30,-25,-20,-15,-10,-5,0,5,10,15,20,25,30,35,40,45,50,55,60,65,70,75,80,85,90,95,100], "tickSize": -2.5, "labels": false, "title": null}},
"y": {"field": "v", "type": "quantitative", "scale": {"domain": [-0.306, 3.2], "nice": false, "zero": false}, "axis": {"orient": "left", "values": [-0.3,-0.2,-0.1,0,0.1,0.2,0.3,0.4,0.5,0.6,0.7,0.8,0.9,1,1.1,1.2,1.3,1.4,1.5,1.6,1.7,1.8,1.9,2,2.1,2.2,2.3,2.4,2.5,2.6,2.7,2.8,2.9,3,3.1,3.2], "tickSize": -2.5, "labels": false, "title": null, "minExtent": 0}}}},
{"data": {"values": [{"v": 0}]}, "mark": {"type": "point", "opacity": 0}, "encoding": {
"x": {"field": "v", "type": "quantitative", "scale": {"domain": [-45.5, 103.2], "nice": false, "zero": false}, "axis": {"orient": "top", "values": [-40,-20,0,20,40,60,80,100], "tickSize": -5, "labels": false, "title": null}},
"y": {"field": "v", "type": "quantitative", "scale": {"domain": [-0.306, 3.2], "nice": false, "zero": false}, "axis": {"orient": "right", "values": [0,0.5,1,1.5,2,2.5,3], "tickSize": -5, "labels": false, "title": null, "minExtent": 0}}}},
{"data": {"values": [{"v": 0}]}, "mark": {"type": "point", "opacity": 0}, "encoding": {
"x": {"field": "v", "type": "quantitative", "scale": {"domain": [-45.5, 103.2], "nice": false, "zero": false}, "axis": {"orient": "top", "values": [-45,-40,-35,-30,-25,-20,-15,-10,-5,0,5,10,15,20,25,30,35,40,45,50,55,60,65,70,75,80,85,90,95,100], "tickSize": -2.5, "labels": false, "title": null}},
"y": {"field": "v", "type": "quantitative", "scale": {"domain": [-0.306, 3.2], "nice": false, "zero": false}, "axis": {"orient": "right", "values": [-0.3,-0.2,-0.1,0,0.1,0.2,0.3,0.4,0.5,0.6,0.7,0.8,0.9,1,1.1,1.2,1.3,1.4,1.5,1.6,1.7,1.8,1.9,2,2.1,2.2,2.3,2.4,2.5,2.6,2.7,2.8,2.9,3,3.1,3.2], "tickSize": -2.5, "labels": false, "title": null, "minExtent": 0}}}}
],
"resolve": {"axis": {"x": "independent", "y": "independent"}}
},
{
"width": 374, "height": 340,
"layer": [
{
"data": {"name": "p2"},
"encoding": {
"x": {"field": "t", "type": "quantitative", "scale": {"domain": [-10.4, 117.3], "nice": false, "zero": false}, "axis": {"orient": "bottom", "values": [0,20,40,60,80,100], "format": "d", "tickSize": -5, "labelPadding": 2, "title": "Time since discovery", "titlePadding": 1}},
"y": {"field": "L", "type": "quantitative", "scale": {"domain": [0, 2.6], "nice": false, "zero": false}, "axis": {"orient": "left", "values": [0,0.5,1,1.5,2,2.5], "format": ".1f", "tickSize": -5, "labelPadding": 3.4, "title": null, "minExtent": 22.2}}
},
"layer": [
{"transform": [{"filter": "datum.k === 'f'"}], "mark": {"type": "point", "filled": true, "opacity": 1, "size": 100}, "encoding": {"color": {"field": "s", "type": "nominal", "scale": {"domain": ["ASASSN-14ae","ASASSN-15oi","ASASSN-14li"], "range": ["#ff8c00","#800080","#ff0000"]}, "legend": {"orient": "none", "legendX": 265.2, "legendY": 20.9, "title": null, "symbolSize": 200, "labelFontSize": 10.5, "labelOffset": 8, "rowPadding": -1.6, "padding": 0}}, "shape": {"field": "s", "type": "nominal", "scale": {"domain": ["ASASSN-14ae","ASASSN-15oi","ASASSN-14li"], "range": ["M0.8,0A0.8,0.8,0,1,1,-0.8,0A0.8,0.8,0,1,1,0.8,0Z","M0,-0.9L0.5,0L0,0.9L-0.5,0Z","M0.35,0A0.35,0.35,0,1,1,-0.35,0A0.35,0.35,0,1,1,0.35,0Z"]}, "legend": {"orient": "none", "legendX": 265.2, "legendY": 20.9, "title": null, "symbolSize": 200, "labelFontSize": 10.5, "labelOffset": 8, "rowPadding": -1.6, "padding": 0}}}},
{"transform": [{"filter": "datum.k !== 'd'"}], "mark": {"type": "errorbar", "opacity": 0.3, "thickness": 1.3}, "encoding": {"yError": {"field": "e"}, "color": {"field": "s", "type": "nominal", "scale": {"domain": ["ASASSN-14ae","ASASSN-15oi","ASASSN-14li"], "range": ["#ff8c00","#800080","#ff0000"]}, "legend": null}}},
{"transform": [{"filter": "datum.k !== 'd'"}], "mark": {"type": "line", "opacity": 0.35, "strokeWidth": 1}, "encoding": {"detail": {"field": "k"}, "color": {"field": "s", "type": "nominal", "scale": {"domain": ["ASASSN-14ae","ASASSN-15oi","ASASSN-14li"], "range": ["#ff8c00","#800080","#ff0000"]}, "legend": null}}},
{"transform": [{"filter": "datum.k === 'd'"}], "mark": {"type": "circle", "size": 17, "opacity": 1}, "encoding": {"color": {"field": "s", "type": "nominal", "scale": {"domain": ["ASASSN-14ae","ASASSN-15oi","ASASSN-14li"], "range": ["#ff8c00","#800080","#ff0000"]}, "legend": null}}},
{"transform": [{"filter": "datum.k === 'o'"}], "mark": {"type": "point", "filled": false, "opacity": 0.45, "strokeWidth": 1, "size": 100}, "encoding": {"color": {"field": "s", "type": "nominal", "scale": {"domain": ["ASASSN-14ae","ASASSN-15oi","ASASSN-14li"], "range": ["#ff8c00","#800080","#ff0000"]}, "legend": null}, "shape": {"field": "s", "type": "nominal", "scale": {"domain": ["ASASSN-14ae","ASASSN-15oi","ASASSN-14li"], "range": ["M0.8,0A0.8,0.8,0,1,1,-0.8,0A0.8,0.8,0,1,1,0.8,0Z","M0,-0.9L0.5,0L0,0.9L-0.5,0Z","M0.35,0A0.35,0.35,0,1,1,-0.35,0A0.35,0.35,0,1,1,0.35,0Z"]}, "legend": null}}},
{"transform": [{"filter": "datum.k === 'f'"}], "mark": {"type": "point", "filled": true, "opacity": 1, "size": 100}, "encoding": {"color": {"field": "s", "type": "nominal", "scale": {"domain": ["ASASSN-14ae","ASASSN-15oi","ASASSN-14li"], "range": ["#ff8c00","#800080","#ff0000"]}, "legend": null}, "shape": {"field": "s", "type": "nominal", "scale": {"domain": ["ASASSN-14ae","ASASSN-15oi","ASASSN-14li"], "range": ["M0.8,0A0.8,0.8,0,1,1,-0.8,0A0.8,0.8,0,1,1,0.8,0Z","M0,-0.9L0.5,0L0,0.9L-0.5,0Z","M0.35,0A0.35,0.35,0,1,1,-0.35,0A0.35,0.35,0,1,1,0.35,0Z"]}, "legend": null}}}
]
},
{"data": {"values": [{"v": 0}]}, "mark": {"type": "rule", "strokeDash": [3, 2], "color": "#888888", "strokeWidth": 0.8}, "encoding": {"x": {"field": "v", "type": "quantitative", "scale": {"domain": [-10.4, 117.3], "nice": false, "zero": false}, "axis": null}}},
{"data": {"values": [{"v": 0}]}, "mark": {"type": "point", "opacity": 0}, "encoding": {
"x": {"field": "v", "type": "quantitative", "scale": {"domain": [-10.4, 117.3], "nice": false, "zero": false}, "axis": {"orient": "bottom", "values": [-10,-5,0,5,10,15,20,25,30,35,40,45,50,55,60,65,70,75,80,85,90,95,100,105,110,115], "tickSize": -2.5, "labels": false, "title": null}},
"y": {"field": "v", "type": "quantitative", "scale": {"domain": [0, 2.6], "nice": false, "zero": false}, "axis": {"orient": "left", "values": [0,0.1,0.2,0.3,0.4,0.5,0.6,0.7,0.8,0.9,1,1.1,1.2,1.3,1.4,1.5,1.6,1.7,1.8,1.9,2,2.1,2.2,2.3,2.4,2.5,2.6], "tickSize": -2.5, "labels": false, "title": null, "minExtent": 0}}}},
{"data": {"values": [{"v": 0}]}, "mark": {"type": "point", "opacity": 0}, "encoding": {
"x": {"field": "v", "type": "quantitative", "scale": {"domain": [-10.4, 117.3], "nice": false, "zero": false}, "axis": {"orient": "top", "values": [0,20,40,60,80,100], "tickSize": -5, "labels": false, "title": null}},
"y": {"field": "v", "type": "quantitative", "scale": {"domain": [0, 2.6], "nice": false, "zero": false}, "axis": {"orient": "right", "values": [0,0.5,1,1.5,2,2.5], "tickSize": -5, "labels": false, "title": null, "minExtent": 0}}}},
{"data": {"values": [{"v": 0}]}, "mark": {"type": "point", "opacity": 0}, "encoding": {
"x": {"field": "v", "type": "quantitative", "scale": {"domain": [-10.4, 117.3], "nice": false, "zero": false}, "axis": {"orient": "top", "values": [-10,-5,0,5,10,15,20,25,30,35,40,45,50,55,60,65,70,75,80,85,90,95,100,105,110,115], "tickSize": -2.5, "labels": false, "title": null}},
"y": {"field": "v", "type": "quantitative", "scale": {"domain": [0, 2.6], "nice": false, "zero": false}, "axis": {"orient": "right", "values": [0,0.1,0.2,0.3,0.4,0.5,0.6,0.7,0.8,0.9,1,1.1,1.2,1.3,1.4,1.5,1.6,1.7,1.8,1.9,2,2.1,2.2,2.3,2.4,2.5,2.6], "tickSize": -2.5, "labels": false, "title": null, "minExtent": 0}}}}
],
"resolve": {"axis": {"x": "independent", "y": "independent"}}
},
{
"width": 367, "height": 340,
"layer": [
{
"data": {"name": "p3"},
"encoding": {
"x": {"field": "t", "type": "quantitative", "scale": {"domain": [-34.6, 104.4], "nice": false, "zero": false}, "axis": {"orient": "bottom", "values": [-20,0,20,40,60,80,100], "format": "d", "tickSize": -5, "labelPadding": 2, "title": "Time since light-curve peak", "titlePadding": 1}},
"y": {"field": "L", "type": "quantitative", "scale": {"domain": [0, 1.853], "nice": false, "zero": false}, "axis": {"orient": "left", "values": [0,0.25,0.5,0.75,1,1.25,1.5,1.75], "format": ".2f", "tickSize": -5, "labelPadding": 2.4, "title": null, "minExtent": 0}}
},
"layer": [
{"transform": [{"filter": "datum.k === 'f'"}], "mark": {"type": "point", "filled": true, "opacity": 1, "size": 100}, "encoding": {"color": {"field": "s", "type": "nominal", "scale": {"domain": ["AT2017eqx","AT2018hyz"], "range": ["#ffd700","#707070"]}, "legend": {"orient": "none", "legendX": 241.3, "legendY": 39.6, "title": null, "symbolSize": 196, "labelFontSize": 12.5, "labelOffset": 12.3, "rowPadding": -1.2, "padding": 0}}, "shape": {"field": "s", "type": "nominal", "scale": {"domain": ["AT2017eqx","AT2018hyz"], "range": ["M0,-0.9L0.9,0.6L-0.9,0.6Z","M0,-0.85L0.736,-0.425L0.736,0.425L0,0.85L-0.736,0.425L-0.736,-0.425Z"]}, "legend": {"orient": "none", "legendX": 241.3, "legendY": 39.6, "title": null, "symbolSize": 196, "labelFontSize": 12.5, "labelOffset": 12.3, "rowPadding": -1.2, "padding": 0}}}},
{"transform": [{"filter": "datum.k !== 'd'"}], "mark": {"type": "errorbar", "opacity": 0.3, "thickness": 1.3}, "encoding": {"yError": {"field": "e"}, "color": {"field": "s", "type": "nominal", "scale": {"domain": ["AT2017eqx","AT2018hyz"], "range": ["#ffd700","#707070"]}, "legend": null}}},
{"transform": [{"filter": "datum.k !== 'd'"}], "mark": {"type": "line", "opacity": 0.35, "strokeWidth": 1}, "encoding": {"detail": {"field": "k"}, "color": {"field": "s", "type": "nominal", "scale": {"domain": ["AT2017eqx","AT2018hyz"], "range": ["#ffd700","#707070"]}, "legend": null}}},
{"transform": [{"filter": "datum.k === 'd'"}], "mark": {"type": "circle", "size": 14, "opacity": 1}, "encoding": {"color": {"field": "s", "type": "nominal", "scale": {"domain": ["AT2017eqx","AT2018hyz"], "range": ["#ffd700","#707070"]}, "legend": null}}},
{"transform": [{"filter": "datum.k === 'o'"}], "mark": {"type": "point", "filled": false, "opacity": 0.45, "strokeWidth": 1, "size": 100}, "encoding": {"color": {"field": "s", "type": "nominal", "scale": {"domain": ["AT2017eqx","AT2018hyz"], "range": ["#ffd700","#707070"]}, "legend": null}, "shape": {"field": "s", "type": "nominal", "scale": {"domain": ["AT2017eqx","AT2018hyz"], "range": ["M0,-0.9L0.9,0.6L-0.9,0.6Z","M0,-0.85L0.736,-0.425L0.736,0.425L0,0.85L-0.736,0.425L-0.736,-0.425Z"]}, "legend": null}}},
{"transform": [{"filter": "datum.k === 'f'"}], "mark": {"type": "point", "filled": true, "opacity": 1, "size": 100}, "encoding": {"color": {"field": "s", "type": "nominal", "scale": {"domain": ["AT2017eqx","AT2018hyz"], "range": ["#ffd700","#707070"]}, "legend": null}, "shape": {"field": "s", "type": "nominal", "scale": {"domain": ["AT2017eqx","AT2018hyz"], "range": ["M0,-0.9L0.9,0.6L-0.9,0.6Z","M0,-0.85L0.736,-0.425L0.736,0.425L0,0.85L-0.736,0.425L-0.736,-0.425Z"]}, "legend": null}}}
]
},
{"data": {"values": [{"v": 0}]}, "mark": {"type": "rule", "strokeDash": [3, 2], "color": "#888888", "strokeWidth": 0.8}, "encoding": {"x": {"field": "v", "type": "quantitative", "scale": {"domain": [-34.6, 104.4], "nice": false, "zero": false}, "axis": null}}},
{"data": {"values": [{"v": 0}]}, "mark": {"type": "point", "opacity": 0}, "encoding": {
"x": {"field": "v", "type": "quantitative", "scale": {"domain": [-34.6, 104.4], "nice": false, "zero": false}, "axis": {"orient": "bottom", "values": [-30,-25,-20,-15,-10,-5,0,5,10,15,20,25,30,35,40,45,50,55,60,65,70,75,80,85,90,95,100], "tickSize": -2.5, "labels": false, "title": null}},
"y": {"field": "v", "type": "quantitative", "scale": {"domain": [0, 1.853], "nice": false, "zero": false}, "axis": {"orient": "left", "values": [0,0.05,0.1,0.15,0.2,0.25,0.3,0.35,0.4,0.45,0.5,0.55,0.6,0.65,0.7,0.75,0.8,0.85,0.9,0.95,1,1.05,1.1,1.15,1.2,1.25,1.3,1.35,1.4,1.45,1.5,1.55,1.6,1.65,1.7,1.75,1.8,1.85], "tickSize": -2.5, "labels": false, "title": null, "minExtent": 0}}}},
{"data": {"values": [{"v": 0}]}, "mark": {"type": "point", "opacity": 0}, "encoding": {
"x": {"field": "v", "type": "quantitative", "scale": {"domain": [-34.6, 104.4], "nice": false, "zero": false}, "axis": {"orient": "top", "values": [-20,0,20,40,60,80,100], "tickSize": -5, "labels": false, "title": null}},
"y": {"field": "v", "type": "quantitative", "scale": {"domain": [0, 1.853], "nice": false, "zero": false}, "axis": {"orient": "right", "values": [0,0.25,0.5,0.75,1,1.25,1.5,1.75], "tickSize": -5, "labels": false, "title": null, "minExtent": 0}}}},
{"data": {"values": [{"v": 0}]}, "mark": {"type": "point", "opacity": 0}, "encoding": {
"x": {"field": "v", "type": "quantitative", "scale": {"domain": [-34.6, 104.4], "nice": false, "zero": false}, "axis": {"orient": "top", "values": [-30,-25,-20,-15,-10,-5,0,5,10,15,20,25,30,35,40,45,50,55,60,65,70,75,80,85,90,95,100], "tickSize": -2.5, "labels": false, "title": null}},
"y": {"field": "v", "type": "quantitative", "scale": {"domain": [0, 1.853], "nice": false, "zero": false}, "axis": {"orient": "right", "values": [0,0.05,0.1,0.15,0.2,0.25,0.3,0.35,0.4,0.45,0.5,0.55,0.6,0.65,0.7,0.75,0.8,0.85,0.9,0.95,1,1.05,1.1,1.15,1.2,1.25,1.3,1.35,1.4,1.45,1.5,1.55,1.6,1.65,1.7,1.75,1.8,1.85], "tickSize": -2.5, "labels": false, "title": null, "minExtent": 0}}}}
],
"resolve": {"axis": {"x": "independent", "y": "independent"}}
}
],
"resolve": {"scale": {"color": "independent", "shape": "independent"}},
"config": {
"font": "Liberation Sans",
"view": {"stroke": "#000000", "strokeWidth": 1.2},
"axis": {"domain": false, "grid": false, "tickColor": "#000000", "tickWidth": 1, "labelColor": "#000000", "labelFontSize": 11, "labelFont": "Liberation Sans", "titleFont": "Liberation Sans", "titleColor": "#000000", "titleFontSize": 12.5, "titleFontWeight": "normal", "labelOverlap": false, "labelFlush": false},
"legend": {"labelFont": "Liberation Sans", "labelColor": "#000000"}
}
}
